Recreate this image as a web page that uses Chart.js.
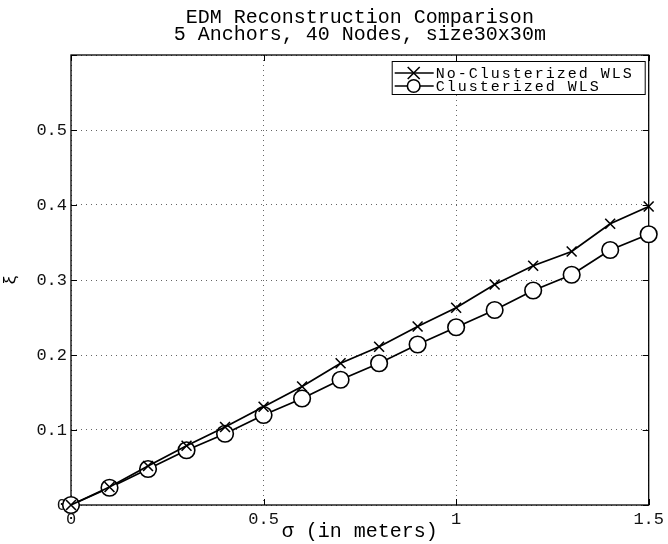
<!DOCTYPE html>
<html>
<head>
<meta charset="utf-8">
<script src="https://cdn.jsdelivr.net/npm/chart.js@4.4.1/dist/chart.umd.min.js"></script>
<style>
  html, body { margin: 0; padding: 0; background: #fff; }
  #wrap { width: 668px; height: 544px; position: relative; }
</style>
</head>
<body>
<div id="wrap"><canvas id="edmChart"></canvas></div>
<script>
// sigma values (in meters)
const sigma = [0, 0.1, 0.2, 0.3, 0.4, 0.5, 0.6, 0.7, 0.8, 0.9, 1.0, 1.1, 1.2, 1.3, 1.4, 1.5];
const noClusterized = [0, 0.024, 0.052, 0.079, 0.104, 0.131, 0.158, 0.189, 0.211, 0.238, 0.263, 0.294, 0.319, 0.338, 0.375, 0.398];
const clusterized = [0, 0.023, 0.048, 0.073, 0.095, 0.120, 0.142, 0.167, 0.189, 0.214, 0.237, 0.260, 0.286, 0.307, 0.340, 0.361];
const seriesNames = ["No-Clusterized WLS", "Clusterized WLS"];
const titleLines = ["EDM Reconstruction Comparison", "5 Anchors, 40 Nodes, size30x30m"];
const xTicks = [0, 0.5, 1, 1.5];
const yTicks = [0, 0.1, 0.2, 0.3, 0.4, 0.5, 0.6];

const MONO = "'Liberation Mono', 'DejaVu Sans Mono', monospace";

function toPoints(vals) {
    return sigma.map((s, i) => ({ x: s, y: vals[i] }));
}

// box around the axes with inward ticks, like matlab
const boxPlugin = {
    id: "boxPlugin",
    beforeDatasetsDraw(chart) {
        const { ctx, chartArea: a, scales } = chart;
        ctx.save();
        ctx.strokeStyle = "#000";
        ctx.lineWidth = 1.3;
        ctx.strokeRect(a.left, a.top, a.right - a.left, a.bottom - a.top);
        ctx.lineWidth = 1;
        ctx.beginPath();
        xTicks.forEach(v => {
            const px = Math.round(scales.x.getPixelForValue(v)) + 0.5;
            ctx.moveTo(px, a.bottom); ctx.lineTo(px, a.bottom - 6);
            ctx.moveTo(px, a.top); ctx.lineTo(px, a.top + 6);
        });
        yTicks.forEach(v => {
            const py = Math.round(scales.y.getPixelForValue(v)) + 0.5;
            ctx.moveTo(a.left, py); ctx.lineTo(a.left + 6, py);
            ctx.moveTo(a.right, py); ctx.lineTo(a.right - 6, py);
        });
        ctx.stroke();
        ctx.restore();
    },
    afterDraw(chart) {
        const { ctx, chartArea: a } = chart;
        ctx.save();
        // title
        ctx.fillStyle = "#000";
        ctx.font = "20px " + MONO;
        ctx.textAlign = "center";
        ctx.textBaseline = "middle";
        const cx = (a.left + a.right) / 2;
        titleLines.forEach((t, i) => ctx.fillText(t, cx, 18 + i * 16.5));

        // legend
        const bx = a.right - 257, by = a.top + 6, bw = 253, bh = 33;
        ctx.fillStyle = "#fff";
        ctx.fillRect(bx, by, bw, bh);
        ctx.strokeStyle = "#000";
        ctx.lineWidth = 1;
        ctx.strokeRect(bx + 0.5, by + 0.5, bw, bh);
        ctx.font = "15px " + MONO;
        ctx.letterSpacing = "2px";
        ctx.textAlign = "left";
        seriesNames.forEach((name, i) => {
            const y = by + 12 + i * 13;
            const mx = bx + 22;
            ctx.strokeStyle = "#000";
            ctx.lineWidth = 1.6;
            ctx.beginPath();
            ctx.moveTo(bx + 3, y); ctx.lineTo(bx + 42, y);
            ctx.stroke();
            if (i === 0) {
                ctx.beginPath();
                ctx.moveTo(mx - 6, y - 6); ctx.lineTo(mx + 6, y + 6);
                ctx.moveTo(mx - 6, y + 6); ctx.lineTo(mx + 6, y - 6);
                ctx.stroke();
            } else {
                ctx.beginPath();
                ctx.arc(mx, y, 6.3, 0, Math.PI * 2);
                ctx.fillStyle = "#fff";
                ctx.fill();
                ctx.stroke();
            }
            ctx.fillStyle = "#000";
            ctx.fillText(name, bx + 44, y + 1);
        });
        ctx.restore();
    }
};

new Chart(document.getElementById("edmChart"), {
    type: "line",
    data: {
        datasets: [{
            label: seriesNames[0],
            data: toPoints(noClusterized),
            borderColor: "#000",
            borderWidth: 1.8,
            pointStyle: "crossRot",
            pointRadius: 7,
            pointBorderWidth: 1.6,
            pointBorderColor: "#000",
            pointBackgroundColor: "#000",
            tension: 0,
            clip: false
        }, {
            label: seriesNames[1],
            data: toPoints(clusterized),
            borderColor: "#000",
            borderWidth: 1.8,
            pointStyle: "circle",
            pointRadius: 8.3,
            pointBorderWidth: 1.6,
            pointBorderColor: "#000",
            pointBackgroundColor: "#fff",
            tension: 0,
            clip: false
        }]
    },
    options: {
        responsive: true,
        maintainAspectRatio: false,
        animation: false,
        layout: { padding: { top: 55, right: 18, left: 0, bottom: 0 } },
        plugins: {
            legend: { display: false },
            title: { display: false },
            tooltip: { enabled: false }
        },
        scales: {
            x: {
                type: "linear",
                min: 0,
                max: 1.5,
                afterBuildTicks: s => { s.ticks = xTicks.map(v => ({ value: v })); },
                afterFit: s => { s.height = 39; },
                ticks: {
                    color: "#111",
                    font: { family: MONO, size: 17 },
                    padding: 4,
                    maxRotation: 0,
                    callback: v => String(v)
                },
                grid: {
                    color: "#666",
                    lineWidth: 1,
                    drawTicks: false
                },
                border: { display: false, dash: [1, 4] },
                title: {
                    display: true,
                    text: "σ (in meters)",
                    color: "#000",
                    font: { family: MONO, size: 20 },
                    padding: { top: 3, bottom: 0 }
                }
            },
            y: {
                min: 0,
                max: 0.6,
                afterBuildTicks: s => { s.ticks = yTicks.map(v => ({ value: v })); },
                afterFit: s => { s.width = 71; },
                ticks: {
                    color: "#111",
                    font: { family: MONO, size: 17 },
                    padding: 4,
                    callback: v => v > 0.55 ? "" : String(Math.round(v * 10) / 10)
                },
                grid: {
                    color: "#666",
                    lineWidth: 1,
                    drawTicks: false
                },
                border: { display: false, dash: [1, 4] },
                title: {
                    display: true,
                    text: "ξ",
                    color: "#000",
                    font: { family: MONO, size: 17 },
                    padding: { top: 0, bottom: 0 }
                }
            }
        }
    },
    plugins: [boxPlugin]
});
</script>
</body>
</html>
